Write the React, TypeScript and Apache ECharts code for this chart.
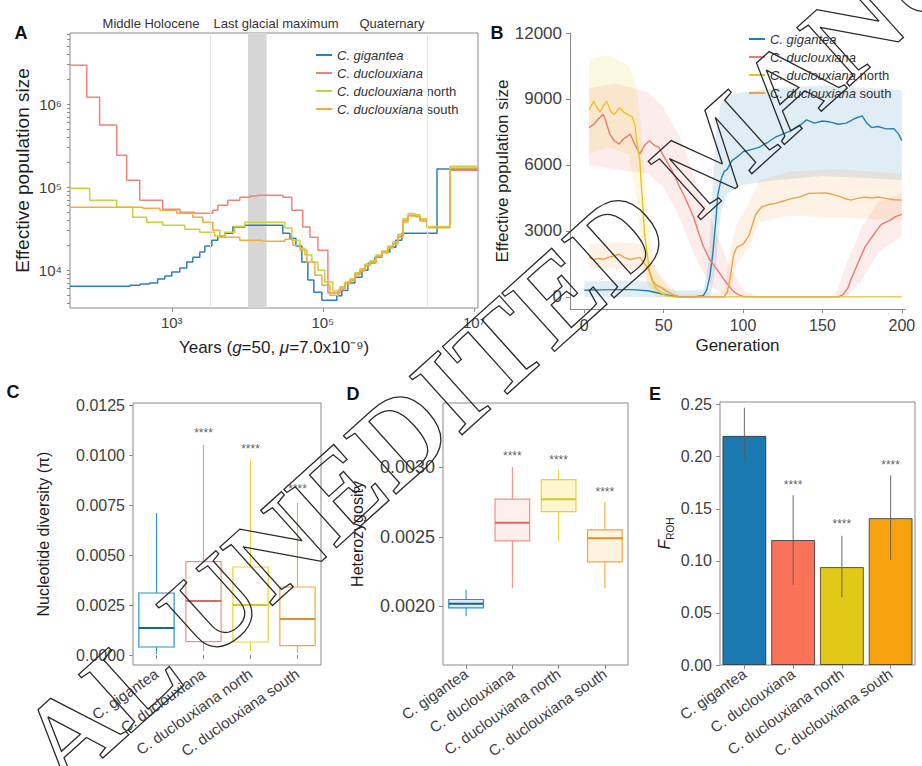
import React, { useEffect, useRef } from 'react';
import * as echarts from 'echarts';

// ---------- shared ----------
const species = ['C. gigantea', 'C. duclouxiana', 'C. duclouxiana north', 'C. duclouxiana south'];

// ---------- Panel A (PSMC, years vs Ne) ----------
const psmcGigantea = [[45,6400],[280,6600],[380,6800],[510,7000],[650,7800],[810,8500],[1000,9500],[1280,10600],[1580,12500],[1900,14300],[2350,16500],[2740,19500],[3390,23000],[4070,25700],[5030,27900],[6430,33000],[9270,34800],[29500,27900],[36600,24300],[43900,19500],[52700,12500],[63300,7600],[76000,5400],[97000,4350],[153000,4900],[178000,5700],[214000,7000],[265000,8200],[329000,10000],[395000,12100],[489000,14300],[604000,16500],[771000,18900],[926000,23000],[1110000,27900],[3240000,165000],[11300000,165000]];
const psmcDuclouxiana = [[45,2950000],[75,1210000],[111,559000],[187,243000],[253,121000],[377,69700],[760,54300],[1280,50000],[2020,48600],[3490,52800],[4070,60700],[5520,69700],[7960,75800],[10800,78000],[13800,80100],[29500,75800],[38800,52800],[54300,33000],[67400,25000],[85900,17400],[116500,5300],[168000,6100],[196000,7000],[228000,7600],[265000,9000],[309000,10000],[360000,11500],[420000,12500],[504000,14800],[604000,16500],[726000,18900],[846000,21100],[985000,25700],[1150000,40000],[1340000,46000],[1650000,44800],[1930000,40000],[2390000,33000],[4810000,160000],[11300000,160000]];
const psmcNorth = [[45,97300],[82,69700],[187,57400],[304,43500],[466,37900],[760,34800],[1490,31200],[2350,28700],[3710,25700],[5030,28700],[6820,33900],[9270,37900],[31400,32100],[38800,23000],[49700,18400],[57800,15200],[71500,12500],[85900,10000],[106000,7200],[135500,5600],[168000,6300],[196000,7200],[228000,7900],[265000,9300],[309000,10400],[360000,11800],[420000,13000],[504000,15200],[604000,17000],[726000,19500],[846000,22000],[985000,27000],[1150000,42000],[1340000,48000],[1650000,46500],[1930000,41500],[2390000,33500],[4810000,178000],[11300000,178000]];
const psmcSouth = [[45,57400],[413,55800],[694,52800],[1165,48600],[1900,43500],[2575,37900],[3490,30300],[4320,25000],[7960,23000],[15560,22300],[31400,23600],[40100,20000],[49700,17400],[61400,12500],[78400,8700],[97000,6600],[124000,5000],[160000,5800],[196000,6800],[228000,7400],[265000,8800],[309000,9800],[360000,11200],[420000,12200],[504000,14500],[604000,16200],[726000,18500],[846000,20800],[985000,25000],[1150000,38000],[1340000,45000],[1650000,44000],[1930000,39000],[2390000,32500],[4810000,170000],[11300000,170000]];
const epochLines = [3200, 2400000];
const lgmBand = [10200, 18000];
const epochLabels = ['Middle Holocene', 'Last glacial maximum', 'Quaternary'];
const yearTicks = [1e3, 1e5, 1e7];
const neLabelTicks = [1e4, 1e5, 1e6];
const neMinorTicks = [4000,5000,6000,7000,8000,9000,1e4,2e4,3e4,4e4,5e4,6e4,7e4,8e4,9e4,1e5,2e5,3e5,4e5,5e5,6e5,7e5,8e5,9e5,1e6,2e6,3e6,4e6,5e6,6e6,7e6];

// ---------- Panel B (generation vs Ne) ----------
const stairGigantea = [[0,300],[10,320],[20,330],[30,330],[40,280],[45,200],[50,120],[55,40],[60,10],[70,10],[75,60],[77,300],[79,900],[81,2000],[83,3600],[84,4600],[86,5300],[88,5700],[90,5800],[93,6200],[97,6400],[100,6600],[105,6700],[110,6800],[115,7000],[120,7250],[125,7400],[130,7550],[135,7750],[140,8050],[145,7900],[150,8000],[155,7950],[160,7850],[165,7900],[170,8100],[175,8230],[178,7900],[181,7700],[185,7750],[190,7640],[195,7650],[198,7400],[200,7100]];
const stairDuclouxiana = [[3,7700],[6,7850],[9,8100],[12,8300],[14,7900],[16,7400],[19,7100],[22,6950],[25,7200],[29,7400],[32,6900],[35,6500],[38,6900],[41,7100],[44,6900],[47,6800],[50,6400],[54,5900],[57,5500],[60,5000],[63,4600],[66,4100],[69,3600],[72,2900],[75,2300],[79,1700],[82,1400],[85,1100],[88,800],[91,500],[94,250],[97,100],[100,20],[110,0],[150,0],[160,0],[163,100],[166,400],[168,800],[171,1300],[174,1800],[177,2300],[181,2700],[184,3000],[187,3300],[190,3400],[193,3500],[196,3650],[200,3750]];
const stairNorth = [[3,8500],[6,8900],[8,8600],[10,8400],[12,8700],[14,8900],[17,8400],[19,8300],[22,8600],[25,8400],[27,8300],[30,8200],[32,7800],[33,7100],[35,6200],[36,5000],[37,4000],[38,2800],[40,1800],[41,1200],[43,700],[45,400],[48,200],[52,50],[56,0],[100,0],[150,0],[200,0]];
const stairSouth = [[3,1800],[6,1700],[9,1750],[12,1700],[15,1800],[18,1850],[22,1940],[25,1800],[29,1700],[32,1750],[35,1800],[38,1500],[40,1330],[42,950],[43,730],[46,500],[48,450],[52,250],[56,100],[60,0],[88,0],[90,200],[92,900],[94,1900],[96,2250],[100,2400],[102,2600],[104,2850],[106,3300],[108,3750],[110,3950],[112,4100],[116,4200],[120,4240],[125,4350],[131,4480],[136,4550],[141,4700],[146,4720],[152,4730],[157,4650],[162,4540],[165,4450],[168,4400],[172,4480],[177,4540],[181,4500],[185,4540],[190,4480],[195,4420],[200,4400]];
// confidence bands: [generation, lower, upper]
const bandGigantea = [[[0,0,700],[20,0,750],[40,0,700],[55,0,300],[75,0,300],[78,0,1500],[80,200,4000],[83,1500,7500],[86,3800,8800],[90,4700,9200],[100,5100,9300],[120,5300,9500],[150,5500,9600],[180,5400,9500],[200,5300,9400]]];
const bandDuclouxiana = [[[3,6000,9500],[20,5800,9700],[40,5600,9300],[50,5000,8600],[60,3600,7300],[70,1800,5300],[80,500,3500],[90,0,1600],[100,0,300],[110,0,0]],[[158,0,0],[165,0,1500],[175,800,3200],[185,2000,4300],[200,2800,4700]]];
const bandNorth = [[[3,6500,10800],[15,6800,11000],[28,6500,10500],[33,4500,9500],[36,2000,7500],[40,500,3500],[45,0,1200],[55,0,200],[60,0,0]]];
const bandSouth = [[[3,1300,2400],[20,1300,2500],[36,1200,2400],[42,400,1500],[50,0,800],[60,0,100],[88,0,200],[92,300,2200],[96,1500,3300],[104,2300,4300],[110,3400,5300],[130,3700,5700],[160,3600,5800],[200,3500,5600]]];
const genTicks = [0, 50, 100, 150, 200];
const neTicksB = [0, 3000, 6000, 9000, 12000];

// ---------- Panel C (nucleotide diversity) [min, q1, median, q3, max] ----------
const piBoxes = [[0.00005,0.0004,0.00135,0.0031,0.0071],[0.0002,0.00067,0.0027,0.00467,0.0105],[0.0002,0.00065,0.0025,0.0044,0.0098],[0.0001,0.00047,0.0018,0.0034,0.0076]];
const piStars = [null, 0.0111, 0.0103, 0.0083];
const piTicks = [0, 0.0025, 0.005, 0.0075, 0.01, 0.0125];

// ---------- Panel D (heterozygosity) ----------
const hetBoxes = [[0.00193,0.00199,0.00202,0.00205,0.00212],[0.00213,0.00247,0.0026,0.00277,0.003],[0.00247,0.00268,0.00277,0.00291,0.00298],[0.00213,0.00232,0.00249,0.00255,0.00275]];
const hetStars = [null, 0.00308, 0.00305, 0.00282];
const hetTicks = [0.002, 0.0025, 0.003];

// ---------- Panel E (F_ROH) ----------
const frohMean = [0.22, 0.12, 0.094, 0.141];
const frohLow = [0.196, 0.077, 0.065, 0.101];
const frohHigh = [0.247, 0.163, 0.124, 0.182];
const frohStars = [null, 0.173, 0.135, 0.192];
const frohTicks = [0, 0.05, 0.1, 0.15, 0.2, 0.25];

// ---------- watermark ----------
const watermarkText = 'AL UNEDITED MANU';

// ---------- styling ----------
const FONT = 'Liberation Sans';
const lineColorsA = ['#2b82b6', '#ee8479', '#c8d23c', '#f2ad3a'];
const lineColorsB = ['#2380b3', '#e87a70', '#e9c41e', '#eea246'];
const boxColors = ['#2a93c4', '#f29086', '#e9d32e', '#f2a73a'];
const medColors = ['#1a6485', '#dc6a60', '#d8c41c', '#dc9128'];
const boxFillsD = ['rgba(110,185,225,0.25)', 'rgba(250,165,155,0.18)', 'rgba(250,230,120,0.35)', 'rgba(250,200,120,0.22)'];
const barColors = ['#1b79b1', '#fa7359', '#e3c917', '#f8a10f'];
const AXIS = '#8a8a8a';
const TICKTXT = '#404040';
const TITLE = '#1e1e1e';

const SUP: Record<string, string> = { '0': '⁰', '1': '¹', '2': '²', '3': '³', '4': '⁴', '5': '⁵', '6': '⁶', '7': '⁷', '8': '⁸', '9': '⁹', '-': '⁻' };
const pow10Label = (v: number) => '10' + String(Math.round(Math.log10(v))).split('').map((c) => SUP[c]).join('');
const italicName = (name: string) => {
  const m = name.match(/^(C\. [a-z]+)(.*)$/);
  return m ? `{i|${m[1]}}${m[2]}` : name;
};

const tickStyle = { show: true, length: 4, lineStyle: { color: AXIS, width: 1 } };
const gridFrame = { show: true, borderColor: AXIS, borderWidth: 1, backgroundColor: 'transparent' };

function bandSeries(segments: number[][][], color: string) {
  return {
    type: 'custom',
    xAxisIndex: 1,
    yAxisIndex: 1,
    silent: true,
    z: 1,
    data: segments.map((seg) => [seg[0][0], seg[0][1]]),
    encode: { x: 0, y: 1 },
    renderItem: (params: any, api: any) => {
      const seg = segments[params.dataIndex];
      const upper = seg.map((p) => api.coord([p[0], p[2]]));
      const lower = seg.map((p) => api.coord([p[0], p[1]])).reverse();
      return { type: 'polygon', shape: { points: upper.concat(lower) }, style: { fill: color, opacity: 0.14 } };
    },
  };
}

function boxSeries(idx: number, boxes: number[][], fills: string[]) {
  return {
    type: 'custom',
    xAxisIndex: idx,
    yAxisIndex: idx,
    silent: true,
    data: boxes.map((b, i) => [i, ...b]),
    encode: { x: 0, y: [1, 2, 3, 4, 5] },
    renderItem: (params: any, api: any) => {
      const i = api.value(0);
      const bw = api.size([1, 0])[0] * 0.75;
      const pMin = api.coord([i, api.value(1)]);
      const pQ1 = api.coord([i, api.value(2)]);
      const pMed = api.coord([i, api.value(3)]);
      const pQ3 = api.coord([i, api.value(4)]);
      const pMax = api.coord([i, api.value(5)]);
      const x = pMed[0];
      const c = boxColors[params.dataIndex];
      return {
        type: 'group',
        children: [
          { type: 'line', shape: { x1: x, y1: pMax[1], x2: x, y2: pQ3[1] }, style: { stroke: c, lineWidth: 1.1 } },
          { type: 'line', shape: { x1: x, y1: pQ1[1], x2: x, y2: pMin[1] }, style: { stroke: c, lineWidth: 1.1 } },
          { type: 'rect', shape: { x: x - bw / 2, y: pQ3[1], width: bw, height: pQ1[1] - pQ3[1] }, style: { fill: fills[params.dataIndex], stroke: c, lineWidth: 1.2 } },
          { type: 'line', shape: { x1: x - bw / 2, y1: pMed[1], x2: x + bw / 2, y2: pMed[1] }, style: { stroke: medColors[params.dataIndex], lineWidth: 2 } },
        ],
      };
    },
  };
}

function starSeries(idx: number, stars: (number | null)[]) {
  return {
    type: 'scatter',
    xAxisIndex: idx,
    yAxisIndex: idx,
    silent: true,
    symbolSize: 1,
    itemStyle: { color: 'rgba(0,0,0,0)' },
    label: { show: true, position: 'inside', formatter: '****', fontSize: 12, color: '#333', fontFamily: FONT },
    data: stars.map((v, i) => (v === null ? null : [i, v])).filter((d) => d !== null),
    z: 5,
  };
}

const catXAxis = (idx: number) => ({
  type: 'category',
  gridIndex: idx,
  data: species,
  boundaryGap: true,
  axisLine: { show: false },
  axisTick: { ...tickStyle, alignWithLabel: true },
  axisLabel: { rotate: 35, interval: 0, fontSize: 15, color: TICKTXT, margin: 7, fontFamily: FONT },
  splitLine: { show: false },
});

function buildOption(): any {
  const psmc = [psmcGigantea, psmcDuclouxiana, psmcNorth, psmcSouth];
  const stair = [stairGigantea, stairDuclouxiana, stairNorth, stairSouth];
  const bands = [bandGigantea, bandDuclouxiana, bandNorth, bandSouth];

  const seriesA = psmc.map((d, i) => ({
    type: 'line',
    name: species[i],
    xAxisIndex: 0,
    yAxisIndex: 0,
    data: d,
    step: 'end',
    symbol: 'none',
    lineStyle: { color: lineColorsA[i], width: 1.5 },
    itemStyle: { color: lineColorsA[i] },
    z: 3,
    ...(i === 0
      ? {
          markArea: { silent: true, itemStyle: { color: '#d6d6d6' }, data: [[{ xAxis: lgmBand[0] }, { xAxis: lgmBand[1] }]] },
          markLine: { silent: true, symbol: 'none', label: { show: false }, lineStyle: { color: '#e4e4e4', type: 'solid', width: 1 }, data: epochLines.map((v) => ({ xAxis: v })) },
        }
      : {}),
  }));

  const seriesBands = bands.map((b, i) => bandSeries(b, lineColorsB[i]));
  const seriesB = stair.map((d, i) => ({
    type: 'line',
    name: species[i],
    xAxisIndex: 1,
    yAxisIndex: 1,
    data: d,
    symbol: 'none',
    lineStyle: { color: lineColorsB[i], width: 1.4 },
    itemStyle: { color: lineColorsB[i] },
    z: 3,
  }));

  const errSeries = {
    type: 'custom',
    xAxisIndex: 4,
    yAxisIndex: 4,
    silent: true,
    z: 4,
    data: frohMean.map((_, i) => [i, frohLow[i], frohHigh[i]]),
    encode: { x: 0, y: [1, 2] },
    renderItem: (params: any, api: any) => {
      const p1 = api.coord([api.value(0), api.value(1)]);
      const p2 = api.coord([api.value(0), api.value(2)]);
      return { type: 'line', shape: { x1: p1[0], y1: p1[1], x2: p2[0], y2: p2[1] }, style: { stroke: '#5a5a5a', lineWidth: 0.9 } };
    },
  };

  const legendRich = { i: { fontStyle: 'italic', fontSize: 13, color: '#333', fontFamily: FONT } };

  const txt = (text: string, x: number, y: number, size: number, weight = 'normal', color = '#333') => ({
    type: 'text',
    x,
    y,
    silent: true,
    style: { text, fontSize: size, fontWeight: weight, fontFamily: FONT, fill: color, align: 'center', verticalAlign: 'middle' },
  });

  return {
    animation: false,
    backgroundColor: '#ffffff',
    textStyle: { fontFamily: FONT },
    grid: [
      { left: 70, top: 33, width: 408, height: 275, ...gridFrame },
      { left: 570, top: 33, width: 335, height: 276 },
      { left: 133, top: 403, width: 188, height: 262, ...gridFrame },
      { left: 443, top: 403, width: 185, height: 262, ...gridFrame },
      { left: 720, top: 402, width: 195, height: 263, ...gridFrame },
    ],
    legend: [
      {
        orient: 'vertical', left: 311, top: 42, itemWidth: 16, itemHeight: 10, itemGap: 2,
        formatter: italicName,
        textStyle: { fontSize: 13, lineHeight: 16, color: '#333', fontFamily: FONT, rich: legendRich },
        data: species.map((n, i) => ({ name: n, icon: 'path://M0,4L16,4L16,6L0,6Z', itemStyle: { color: lineColorsA[i] } })),
        selectedMode: false,
      },
      {
        orient: 'vertical', left: 744, top: 26, itemWidth: 16, itemHeight: 10, itemGap: 2,
        formatter: italicName,
        textStyle: { fontSize: 13, lineHeight: 16, color: '#333', fontFamily: FONT, rich: legendRich },
        data: species.map((n, i) => ({ name: n, icon: 'path://M0,4L16,4L16,6L0,6Z', itemStyle: { color: lineColorsB[i] } })),
        selectedMode: false,
      },
    ],
    xAxis: [
      {
        type: 'log', logBase: 10, gridIndex: 0, min: 45, max: 11300000,
        axisLine: { show: false },
        axisTick: { ...tickStyle, customValues: yearTicks },
        axisLabel: { customValues: yearTicks, formatter: pow10Label, fontSize: 15, color: TICKTXT, margin: 7 },
        splitLine: { show: false }, minorTick: { show: false },
        name: 'Years ({i|g}=50, {i|μ}=7.0x10⁻⁹)', nameLocation: 'middle', nameGap: 31,
        nameTextStyle: { fontSize: 17, color: TITLE, verticalAlign: 'top', rich: { i: { fontStyle: 'italic', fontSize: 17, color: TITLE, verticalAlign: 'top' } } },
      },
      {
        type: 'value', gridIndex: 1, min: -9, max: 202,
        axisLine: { show: true, onZero: false, lineStyle: { color: AXIS } },
        axisTick: { ...tickStyle, customValues: genTicks },
        axisLabel: { customValues: genTicks, formatter: (v: number) => String(v), fontSize: 16, color: TICKTXT, margin: 8 },
        splitLine: { show: false },
        name: 'Generation', nameLocation: 'middle', nameGap: 28,
        nameTextStyle: { fontSize: 17, color: TITLE, verticalAlign: 'top' },
      },
      catXAxis(2),
      catXAxis(3),
      catXAxis(4),
    ],
    yAxis: [
      {
        type: 'log', logBase: 10, gridIndex: 0, min: 3500, max: 7200000,
        axisLine: { show: false },
        axisTick: { ...tickStyle, length: 3, customValues: neMinorTicks },
        axisLabel: { customValues: neLabelTicks, formatter: pow10Label, fontSize: 15, color: TICKTXT, margin: 8 },
        splitLine: { show: false },
        name: 'Effective population size', nameLocation: 'middle', nameGap: 38,
        nameTextStyle: { fontSize: 19, color: TITLE },
      },
      {
        type: 'value', gridIndex: 1, min: -550, max: 12000,
        axisLine: { show: true, onZero: false, lineStyle: { color: AXIS } },
        axisTick: { ...tickStyle, customValues: neTicksB },
        axisLabel: { customValues: neTicksB, formatter: (v: number) => String(v), fontSize: 17, color: TICKTXT, margin: 8 },
        splitLine: { show: false },
        name: 'Effective population size', nameLocation: 'middle', nameGap: 56,
        nameTextStyle: { fontSize: 17, color: TITLE },
      },
      {
        type: 'value', gridIndex: 2, min: -0.0005, max: 0.0126,
        axisLine: { show: false },
        axisTick: { ...tickStyle, customValues: piTicks },
        axisLabel: { customValues: piTicks, formatter: (v: number) => v.toFixed(4), fontSize: 16, color: TICKTXT, margin: 8 },
        splitLine: { show: false },
        name: 'Nucleotide diversity (π)', nameLocation: 'middle', nameGap: 82,
        nameTextStyle: { fontSize: 16, color: TITLE },
      },
      {
        type: 'value', gridIndex: 3, min: 0.00158, max: 0.00346,
        axisLine: { show: false },
        axisTick: { ...tickStyle, customValues: hetTicks },
        axisLabel: { customValues: hetTicks, formatter: (v: number) => v.toFixed(4), fontSize: 18, color: TICKTXT, margin: 8 },
        splitLine: { show: false },
        name: 'Heterozygosity', nameLocation: 'middle', nameGap: 78,
        nameTextStyle: { fontSize: 16, color: TITLE },
      },
      {
        type: 'value', gridIndex: 4, min: 0, max: 0.2525,
        axisLine: { show: false },
        axisTick: { ...tickStyle, customValues: frohTicks },
        axisLabel: { customValues: frohTicks, formatter: (v: number) => v.toFixed(2), fontSize: 16, color: TICKTXT, margin: 8 },
        splitLine: { show: false },
        name: '{f|F}{s|ROH}', nameLocation: 'middle', nameGap: 48,
        nameTextStyle: {
          color: TITLE,
          rich: {
            f: { fontStyle: 'italic', fontSize: 16, color: TITLE, lineHeight: 18, verticalAlign: 'bottom' },
            s: { fontSize: 10, color: TITLE, lineHeight: 12, verticalAlign: 'bottom', padding: [0, 0, -3, 0] },
          },
        },
      },
    ],
    series: [
      ...seriesA,
      ...seriesBands,
      ...seriesB,
      boxSeries(2, piBoxes, ['rgba(255,255,255,0)', 'rgba(255,255,255,0)', 'rgba(255,255,255,0)', 'rgba(255,255,255,0)']),
      starSeries(2, piStars),
      boxSeries(3, hetBoxes, boxFillsD),
      starSeries(3, hetStars),
      {
        type: 'bar',
        xAxisIndex: 4,
        yAxisIndex: 4,
        barWidth: '90%',
        silent: true,
        data: frohMean.map((v, i) => ({ value: v, itemStyle: { color: barColors[i], borderColor: 'rgba(40,40,40,0.75)', borderWidth: 1 } })),
        z: 2,
      },
      errSeries,
      starSeries(4, frohStars),
    ],
    graphic: [
      txt('A', 21, 33, 18, 'bold', '#111'),
      txt('B', 497, 33, 18, 'bold', '#111'),
      txt('C', 13, 392, 18, 'bold', '#111'),
      txt('D', 353, 394, 18, 'bold', '#111'),
      txt('E', 655, 394, 18, 'bold', '#111'),
      txt(epochLabels[0], 151, 23, 13, 'normal', '#333'),
      txt(epochLabels[1], 276, 23, 13, 'normal', '#333'),
      txt(epochLabels[2], 392, 23, 13, 'normal', '#333'),
      {
        type: 'text',
        x: 38,
        y: 762,
        rotation: 0.733,
        silent: true,
        z: 100,
        style: {
          text: watermarkText,
          fontSize: 120,
          fontWeight: 'bold',
          fontFamily: 'Liberation Serif',
          fill: 'rgba(0,0,0,0)',
          stroke: '#2a2a2a',
          lineWidth: 1.3,
          align: 'left',
          verticalAlign: 'middle',
        },
      },
    ],
  };
}

export default function App() {
  const ref = useRef<HTMLDivElement>(null);
  useEffect(() => {
    document.body.style.margin = '0';
    if (!ref.current) return;
    const chart = echarts.init(ref.current, undefined, { renderer: 'svg' });
    chart.setOption(buildOption());
    return () => chart.dispose();
  }, []);
  return <div ref={ref} style={{ position: 'absolute', left: 0, top: 0, width: 922, height: 766 }} />;
}
